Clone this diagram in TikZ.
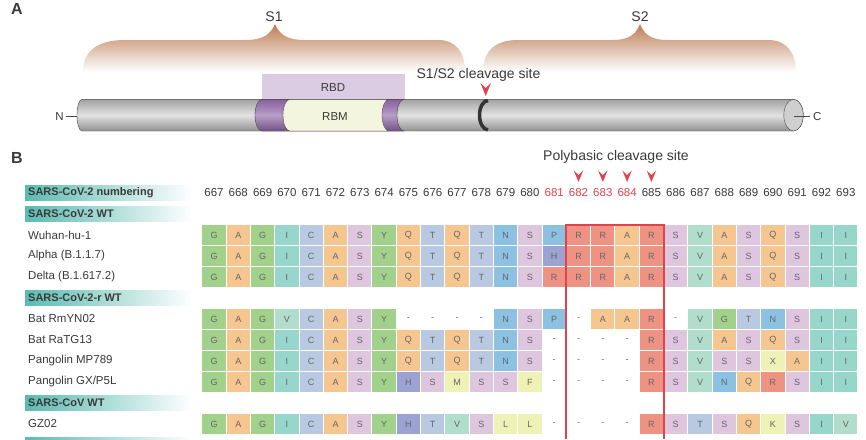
\documentclass[tikz,border=0pt]{standalone}
\usepackage{fontspec}
\setmainfont{Liberation Sans}
\usepackage{xcolor}
\usetikzlibrary{positioning}

\definecolor{txt}{HTML}{3A3A3A}
\definecolor{redmark}{HTML}{E0434B}
\definecolor{bracebrown}{RGB}{190,125,85}
\definecolor{bandteal}{HTML}{5BBAB0}
\definecolor{cylgray}{HTML}{A2A2A2}
\definecolor{cyllight}{HTML}{E2E2E2}
\definecolor{cyledge}{HTML}{4A4A4A}
\definecolor{capgray}{HTML}{CFCFCF}
\definecolor{cleavedark}{HTML}{333333}
\definecolor{rbmpurple}{HTML}{86609C}
\definecolor{rbmlight}{HTML}{B89DC8}
\definecolor{rbdfill}{HTML}{DCCCE3}
\definecolor{rbmfill}{HTML}{F3F5DE}
% residue colours
\definecolor{resgreen}{HTML}{A2D18C}
\definecolor{resorange}{HTML}{F5C690}
\definecolor{resteal}{HTML}{96D6CB}
\definecolor{resmint}{HTML}{B0DDCC}
\definecolor{resslate}{HTML}{B9C9E1}
\definecolor{reslilac}{HTML}{DEC6DE}
\definecolor{resblue}{HTML}{8DC1E2}
\definecolor{ressalmon}{HTML}{EE9384}
\definecolor{resindigo}{HTML}{9CA2D2}
\definecolor{resyellow}{HTML}{EFF2B6}

\tikzset{
  cell/.style={minimum width=23.3pt, minimum height=20pt, inner sep=0pt,
    text=black!60, font=\fontsize{9}{9}\selectfont},
  res G/.style={fill=resgreen}, res Y/.style={fill=resgreen},
  res A/.style={fill=resorange}, res Q/.style={fill=resorange},
  res I/.style={fill=resteal}, res V/.style={fill=resmint},
  res C/.style={fill=resslate}, res T/.style={fill=resslate},
  res S/.style={fill=reslilac},
  res N/.style={fill=resblue}, res P/.style={fill=resblue},
  res R/.style={fill=ressalmon}, res H/.style={fill=resindigo},
  res M/.style={fill=resyellow}, res F/.style={fill=resyellow},
  res L/.style={fill=resyellow}, res X/.style={fill=resyellow},
  res K/.style={fill=resyellow},
  res -/.style={},
  rowlbl/.style={anchor=west, inner sep=0pt, font=\fontsize{11.5}{12}\selectfont},
  grplbl/.style={anchor=west, inner sep=0pt, font=\fontsize{11}{12}\selectfont\bfseries},
  numlbl/.style={inner sep=0pt, font=\fontsize{11.5}{12}\selectfont},
  title/.style={inner sep=0pt, font=\fontsize{14}{15}\selectfont},
  panel/.style={inner sep=0pt, font=\fontsize{16}{17}\selectfont\bfseries},
}

% one alignment row: y position, residues
\newcommand\resrow[2]{%
  \foreach \res [count=\k from 0] in {#2}
    \node[cell, res \res] (r#1c\k) at ({214+24.3*\k},#1) {\res};}
% teal band with a group label
\newcommand\grpband[3]{%
  \shade[left color=bandteal, right color=white] (25,#1-7.5) rectangle (192,#1+7.5);
  \node[grplbl] (#3) at (28,#1) {#2};}
% red downward chevron: x, top y, half width, height
\newcommand\chev[4]{%
  \fill[redmark] ({#1-#3},#2) -- ({#1},{#2+#4*0.4}) -- ({#1+#3},#2) -- ({#1},{#2+#4}) -- cycle;}

\begin{document}
\begin{tikzpicture}[x=1pt, y=-1pt, text=txt]
  \useasboundingbox (0,0) rectangle (866,439);
  \fill[white] (0,0) rectangle (866,439);

  % panel A
  \node[panel] (A) at (17,9) {A};

  % S1 and S2 braces
  \shade[top color=bracebrown, bottom color=white]
    (83,72) .. controls (83,52) and (96,40) .. (125,40) -- (245,40)
    .. controls (265,40) and (271,33) .. (275,24)
    .. controls (279,33) and (285,40) .. (305,40) -- (438,40)
    .. controls (456,40) and (465,52) .. (465,72) -- cycle;
  \shade[top color=bracebrown, bottom color=white]
    (483,72) .. controls (483,52) and (494,40) .. (518,40) -- (612,40)
    .. controls (631,40) and (636,33) .. (640,24)
    .. controls (644,33) and (649,40) .. (668,40) -- (768,40)
    .. controls (786,40) and (796,52) .. (796,72) -- cycle;
  \node[title] (s1) at (274,17) {S1};
  \node[title] (s2) at (640,17) {S2};

  % RBD box
  \fill[rbdfill] (262,74) rectangle (405,99.3);
  \node[rowlbl, anchor=center] (rbd) at (333,88) {RBD};

  % spike cylinder
  \shadedraw[draw=cyledge, top color=cylgray, bottom color=cylgray!90!black, middle color=cyllight]
    (82,99.3) -- (793.5,99.3) arc (-90:90:9.7 and 15.85) -- (82,131)
    arc (90:270:5 and 15.85) -- cycle;
  \filldraw[fill=capgray, draw=cyledge] (793.5,115.15) ellipse (9.7 and 15.85);
  \shadedraw[draw=cyledge, top color=rbmpurple, bottom color=rbmpurple!85!black, middle color=rbmlight]
    (262,99.3) arc (-90:-270:7 and 15.85) -- (404,131) arc (90:270:7 and 15.85) -- cycle;
  \filldraw[fill=rbmfill, draw=cyledge]
    (290,99.3) arc (-90:-270:7 and 15.85) -- (389,131) arc (90:270:7 and 15.85) -- cycle;
  \node[rowlbl, anchor=center] (rbm) at (335,117) {RBM};
  \draw[line width=3.5pt, cleavedark] (488,100.5) arc (-90:-270:8.5 and 14.65);

  % N and C termini
  \node[rowlbl, anchor=east] (N) at (64,116.5) {N};
  \coordinate (cylL) at (77,116.5);
  \draw[cyledge] ([xshift=2pt]N.east) -- (cylL);
  \coordinate (cylR) at (794,116.5);
  \node[rowlbl] (C) at (813,116.5) {C};
  \draw[cyledge] (cylR) -- ([xshift=-3pt]C.west);

  % cleavage site
  \node[title] (cleave) at (478.5,75) {S1/S2 cleavage site};
  \chev{485.7}{83}{5.2}{13}

  % panel B
  \node[panel] (B) at (17,158) {B};
  \node[title] (poly) at (616,157) {Polybasic cleavage site};
  \foreach \k in {15,...,18}{
    \chev{214+24.3*\k}{170.5}{4.7}{11.5}
  }

  % numbering
  \grpband{193}{SARS-CoV-2 numbering}{numbering}
  \foreach \k in {0,...,26}{
    \pgfmathtruncatemacro\num{667+\k}
    \ifnum\num>680 \ifnum\num<685 \def\numcol{redmark}\else\def\numcol{txt}\fi
    \else\def\numcol{txt}\fi
    \node[numlbl, text=\numcol] (n\num) at ({214+24.3*\k},193) {\num};
  }

  % SARS-CoV-2 WT
  \grpband{214}{SARS-CoV-2 WT}{cov2wt}
  \node[rowlbl] (wuhan) at (28,235) {Wuhan-hu-1};
  \node[rowlbl] (alpha) at (28,256) {Alpha (B.1.1.7)};
  \node[rowlbl] (delta) at (28,277) {Delta (B.1.617.2)};
  \resrow{235}{G,A,G,I,C,A,S,Y,Q,T,Q,T,N,S,P,R,R,A,R,S,V,A,S,Q,S,I,I}
  \resrow{256}{G,A,G,I,C,A,S,Y,Q,T,Q,T,N,S,H,R,R,A,R,S,V,A,S,Q,S,I,I}
  \resrow{277}{G,A,G,I,C,A,S,Y,Q,T,Q,T,N,S,R,R,R,A,R,S,V,A,S,Q,S,I,I}

  % SARS-CoV-2-r WT
  \grpband{298}{SARS-CoV-2-r WT}{cov2rwt}
  \node[rowlbl] (rmyn) at (28,319) {Bat RmYN02};
  \node[rowlbl] (ratg) at (28,340) {Bat RaTG13};
  \node[rowlbl] (mp) at (28,361) {Pangolin MP789};
  \node[rowlbl] (gx) at (28,382) {Pangolin GX/P5L};
  \resrow{319}{G,A,G,V,C,A,S,Y,-,-,-,-,N,S,P,-,A,A,R,-,V,G,T,N,S,I,I}
  \resrow{340}{G,A,G,I,C,A,S,Y,Q,T,Q,T,N,S,-,-,-,-,R,S,V,A,S,Q,S,I,I}
  \resrow{361}{G,A,G,I,C,A,S,Y,Q,T,Q,T,N,S,-,-,-,-,R,S,V,S,S,X,A,I,I}
  \resrow{382}{G,A,G,I,C,A,S,Y,H,S,M,S,S,F,-,-,-,-,R,S,V,N,Q,R,S,I,I}

  % SARS-CoV WT
  \grpband{403}{SARS-CoV WT}{covwt}
  \node[rowlbl] (gz) at (28,424) {GZ02};
  \resrow{424}{G,A,G,I,C,A,S,Y,H,T,V,S,L,L,-,-,-,-,R,S,T,S,Q,K,S,I,V}
  \shade[left color=bandteal, right color=white] (25,437) rectangle (192,452);

  % polybasic site frame
  \draw[redmark, line width=2pt] (566.4,439) -- (566.4,225) -- (663.6,225) -- (663.6,439);
\end{tikzpicture}
\end{document}
